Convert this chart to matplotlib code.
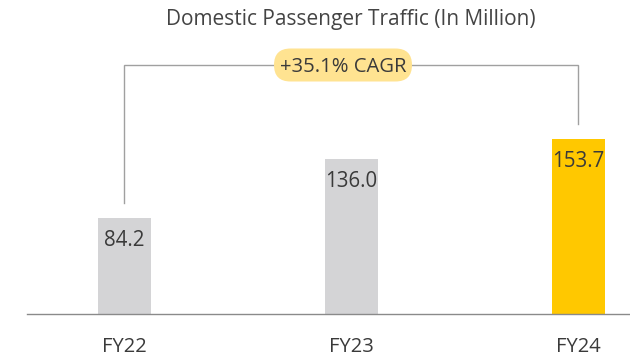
import matplotlib
matplotlib.use("Agg")
import matplotlib.pyplot as plt
from matplotlib.patches import FancyBboxPatch
from matplotlib.transforms import IdentityTransform

plt.rcParams['font.family'] = ['Open Sans', 'DejaVu Sans']

categories = ["FY22", "FY23", "FY24"]
values = [84.2, 136.0, 153.7]
bar_colors = ["#d4d4d6", "#d4d4d6", "#ffc800"]
title = "Domestic Passenger Traffic (In Million)"
cagr_label = "+35.1% CAGR"

W, H, DPI = 630, 358, 100
fig = plt.figure(figsize=(W / DPI, H / DPI), dpi=DPI)

# axes placed in pixel terms: baseline at y=314 px from top, left edge at x=27 px
base_px = 314
left_px = 27
ax = fig.add_axes([left_px / W, (H - base_px) / H, (W - left_px) / W, base_px / H])

px_per_unit_x = 227.0
x0_px = 124.0
ax.set_xlim((left_px - x0_px) / px_per_unit_x, (W - x0_px) / px_per_unit_x)
px_per_unit_y = 1.14
ax.set_ylim(0, base_px / px_per_unit_y)

xs = list(range(len(categories)))
ax.bar(xs, values, width=53 / px_per_unit_x, color=bar_colors, zorder=2)

for x, v in zip(xs, values):
    ax.text(x, v - 28 / px_per_unit_y, f"{v:.1f}", ha="center", va="baseline",
            fontsize=14.8, color="#3a3a3a", zorder=3)

# baseline
for s in ["top", "right", "left"]:
    ax.spines[s].set_visible(False)
ax.spines["bottom"].set_color("#8a8a8a")
ax.spines["bottom"].set_linewidth(1.0)
ax.set_yticks([])
ax.set_xticks(xs)
ax.set_xticklabels(categories, fontsize=14.5, color="#3a3a3a")
ax.tick_params(axis="x", length=0, pad=16.5)

# CAGR bracket from first to last bar
gap = 15 / px_per_unit_y
top_y = (base_px - 65) / px_per_unit_y
ax.plot([xs[0], xs[0], xs[-1], xs[-1]],
        [values[0] + gap, top_y, top_y, values[-1] + gap],
        color="#a0a0a0", lw=1.0, zorder=1, solid_joinstyle="miter")

# pill-shaped badge, sized in pixels
label_x = (xs[0] + xs[-1]) / 2 - 8 / px_per_unit_x
cx, cy = ax.transData.transform((label_x, top_y))
pill_w, pill_h = 138, 33
pill = FancyBboxPatch((cx - pill_w / 2, cy - pill_h / 2), pill_w, pill_h,
                      boxstyle=f"round,pad=0,rounding_size={pill_h / 2}",
                      facecolor="#ffe391", edgecolor="none", zorder=3,
                      transform=IdentityTransform(), clip_on=False)
ax.add_artist(pill)
ax.text(label_x, top_y, cagr_label, ha="center", va="center_baseline",
        fontsize=14.6, color="#3a3a3a", zorder=4)

fig.text(351 / W, 1 - 20 / H, title, ha="center", va="center",
         fontsize=15, color="#444444")

fig.savefig("out.png", dpi=DPI, facecolor="white")
